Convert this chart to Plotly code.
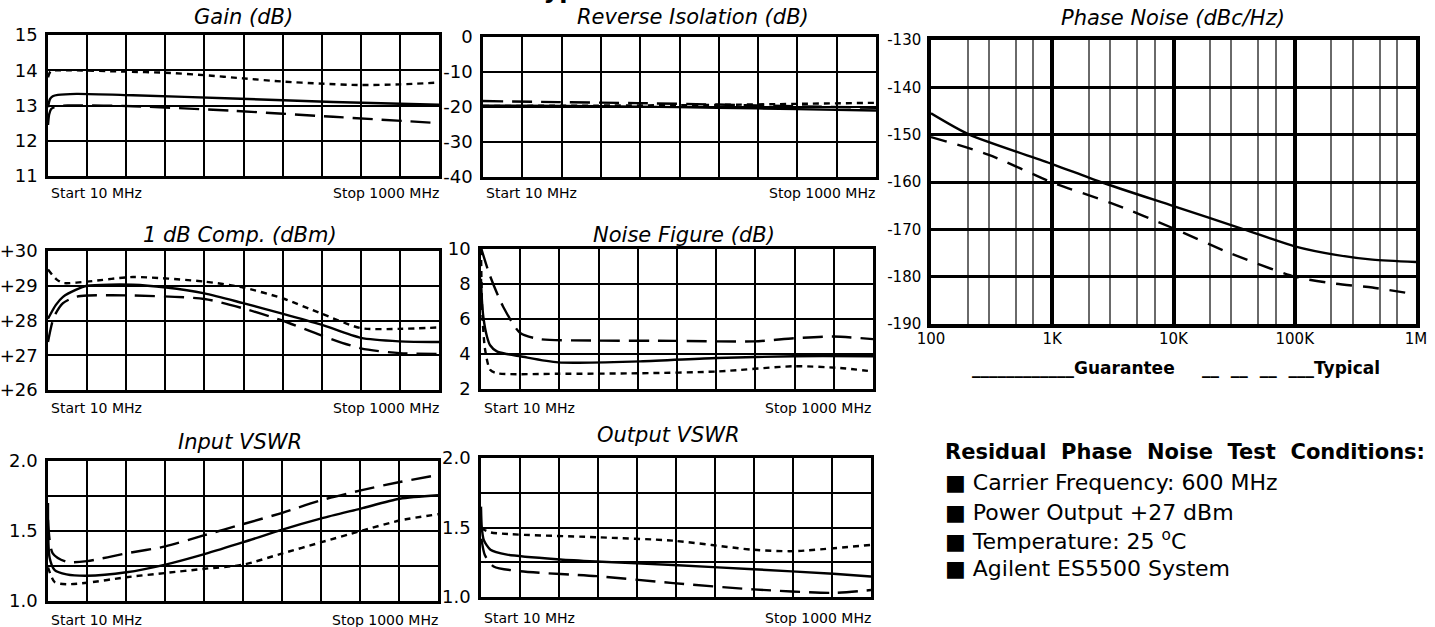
import plotly.graph_objects as go

# ---------------- DATA ----------------
# Small charts: x in MHz (linear sweep 10 .. 1000 MHz)
gain_solid_x = [10, 15, 22, 35, 82, 225, 478, 732, 1000]
gain_solid_y = [12.95, 13.18, 13.26, 13.3, 13.33, 13.29, 13.2, 13.1, 13.02]
gain_dash_x = [10, 13, 18, 30, 60, 225, 478, 732, 1000]
gain_dash_y = [12.45, 12.75, 12.9, 12.97, 13.0, 12.98, 12.85, 12.68, 12.5]
gain_dot_x = [10, 17, 56, 208, 307, 406, 504, 603, 702, 802, 900, 1000]
gain_dot_y = [13.8, 13.97, 14.0, 13.96, 13.93, 13.86, 13.77, 13.68, 13.62, 13.58, 13.6, 13.65]

iso_solid_x = [10, 200, 400, 600, 800, 1000]
iso_solid_y = [-19.6, -19.7, -19.9, -20.2, -20.6, -21.0]
iso_dash_x = [10, 200, 400, 600, 800, 1000]
iso_dash_y = [-18.3, -18.6, -18.9, -19.3, -19.8, -20.2]
iso_dot_x = [10, 300, 600, 800, 1000]
iso_dot_y = [-19.7, -19.6, -19.4, -19.1, -18.8]

comp_solid_x = [10, 30, 48, 80, 109, 225, 309, 406, 504, 603, 702, 802, 900, 1000]
comp_solid_y = [28.05, 28.45, 28.68, 28.88, 29.0, 29.03, 28.95, 28.78, 28.5, 28.2, 27.88, 27.5, 27.4, 27.38]
comp_dash_x = [10, 25, 48, 80, 109, 225, 406, 504, 603, 702, 802, 900, 1000]
comp_dash_y = [27.38, 28.1, 28.5, 28.68, 28.72, 28.72, 28.62, 28.35, 28.0, 27.57, 27.2, 27.06, 27.04]
comp_dot_x = [10, 30, 48, 109, 225, 406, 504, 603, 702, 802, 900, 1000]
comp_dot_y = [29.47, 29.2, 29.08, 29.12, 29.25, 29.12, 28.95, 28.64, 28.2, 27.78, 27.76, 27.8]

nf_solid_x = [10, 12, 16, 25, 33, 50, 75, 109, 205, 412, 606, 800, 1000]
nf_solid_y = [8.3, 7.2, 6.1, 5.0, 4.5, 4.15, 4.0, 3.87, 3.52, 3.58, 3.77, 3.87, 3.87]
nf_dash_x = [11, 33, 66, 109, 160, 300, 500, 700, 800, 900, 1000]
nf_dash_y = [10.0, 8.45, 6.7, 5.2, 4.85, 4.77, 4.75, 4.72, 4.9, 5.0, 4.85]
nf_dot_x = [10, 13, 20, 33, 50, 205, 412, 606, 800, 917, 1000]
nf_dot_y = [10.0, 6.5, 4.3, 3.1, 2.9, 2.87, 2.9, 3.0, 3.3, 3.2, 3.0]

ivswr_solid_x = [10, 14, 27, 57, 109, 209, 308, 407, 506, 605, 704, 804, 903, 1000]
ivswr_solid_y = [1.7, 1.31, 1.22, 1.19, 1.18, 1.205, 1.26, 1.335, 1.42, 1.51, 1.59, 1.66, 1.73, 1.755]
ivswr_dash_x = [10, 22, 57, 109, 209, 308, 407, 506, 605, 704, 804, 903, 1000]
ivswr_dash_y = [1.58, 1.34, 1.28, 1.285, 1.34, 1.39, 1.47, 1.55, 1.63, 1.72, 1.79, 1.85, 1.9]
ivswr_dot_x = [10, 27, 57, 109, 209, 308, 407, 506, 605, 704, 804, 903, 1000]
ivswr_dot_y = [1.24, 1.135, 1.12, 1.13, 1.17, 1.2, 1.23, 1.26, 1.34, 1.42, 1.5, 1.575, 1.62]

ovswr_solid_x = [10, 12, 17, 34, 76, 211, 304, 498, 701, 904, 1000]
ovswr_solid_y = [1.65, 1.5, 1.41, 1.34, 1.305, 1.27, 1.255, 1.23, 1.2, 1.167, 1.148]
ovswr_dash_x = [11, 20, 42, 110, 304, 498, 701, 904, 1000]
ovswr_dash_y = [1.42, 1.3, 1.22, 1.185, 1.15, 1.1, 1.055, 1.03, 1.05]
ovswr_dot_x = [10, 34, 304, 498, 701, 803, 1000]
ovswr_dot_y = [1.495, 1.465, 1.43, 1.405, 1.34, 1.33, 1.375]

# Phase noise: offset frequency in Hz, dBc/Hz
pn_guarantee_x = [100, 207, 1000, 2500, 10000, 38000, 100000, 218000, 437000, 1000000]
pn_guarantee_y = [-145.5, -150, -156.2, -160, -165.1, -170, -173.6, -175.4, -176.4, -176.9]
pn_typical_x = [100, 296, 1000, 3100, 10000, 29000, 100000, 218000, 437000, 930000]
pn_typical_y = [-150.5, -154.2, -160.1, -164.5, -169.8, -175, -180, -181.5, -182.3, -183.6]

pn_xtick_vals = [100, 1000, 10000, 100000, 1000000]
pn_xtick_text = ["100", "1K", "10K", "100K", "1M"]
pn_minor_mult = [2, 3, 5, 7]
pn_ytick_vals = [-130, -140, -150, -160, -170, -180, -190]
pn_ytick_text = ["-130", "-140", "-150", "-160", "-170", "-180", "-190"]

titles = ["Gain (dB)", "Reverse Isolation (dB)", "1 dB Comp. (dBm)",
          "Noise Figure (dB)", "Input VSWR", "Output VSWR"]
yranges = [[11, 15], [-40, 0], [26, 30], [2, 10], [1.0, 2.0], [1.0, 2.0]]
ytickvals = [[11, 12, 13, 14, 15], [-40, -30, -20, -10, 0], [26, 27, 28, 29, 30],
             [2, 4, 6, 8, 10], [1.0, 1.5, 2.0], [1.0, 1.5, 2.0]]
yticktext = [["11", "12", "13", "14", "15"], ["-40", "-30", "-20", "-10", "0"],
             ["+26", "+27", "+28", "+29", "+30"], ["2", "4", "6", "8", "10"],
             ["1.0", "1.5", "2.0"], ["1.0", "1.5", "2.0"]]
yextra_grid = [[], [], [], [], [1.25, 1.75], [1.25, 1.75]]

series = [
    (gain_solid_x, gain_solid_y, gain_dash_x, gain_dash_y, gain_dot_x, gain_dot_y),
    (iso_solid_x, iso_solid_y, iso_dash_x, iso_dash_y, iso_dot_x, iso_dot_y),
    (comp_solid_x, comp_solid_y, comp_dash_x, comp_dash_y, comp_dot_x, comp_dot_y),
    (nf_solid_x, nf_solid_y, nf_dash_x, nf_dash_y, nf_dot_x, nf_dot_y),
    (ivswr_solid_x, ivswr_solid_y, ivswr_dash_x, ivswr_dash_y, ivswr_dot_x, ivswr_dot_y),
    (ovswr_solid_x, ovswr_solid_y, ovswr_dash_x, ovswr_dash_y, ovswr_dot_x, ovswr_dot_y),
]

conditions_title = "Residual\u00a0\u00a0Phase\u00a0\u00a0Noise\u00a0\u00a0Test\u00a0\u00a0Conditions:"
conditions = ["Carrier Frequency: 600 MHz", "Power Output +27 dBm",
              "Temperature: 25 <sup>o</sup>C", "Agilent ES5500 System"]

# ---------------- LAYOUT ----------------
W, H = 1435, 627
FONT = "DejaVu Sans"


def px(x):
    return x / W


def py(y):
    return 1 - y / H


# panel pixel boxes: left, right, top, bottom
boxes = [(48, 439, 35, 176), (483, 876, 37, 177),
         (48, 439, 251, 390), (481, 873, 249, 389),
         (48, 438, 461, 601), (481, 871, 458, 597)]
title_pos = [(243, 17), (693, 17), (240, 235), (684, 235), (240, 442), (668, 435)]
startstop_y = [193, 193, 408, 408, 620, 618]
stop_right = [441, 877, 441, 873, 440, 873]

fig = go.Figure()
layout = dict(width=W, height=H, margin=dict(l=0, r=0, t=0, b=0, autoexpand=False),
              paper_bgcolor="white", plot_bgcolor="white", showlegend=False,
              font=dict(family=FONT, color="black"))
annotations = []

styles = [dict(dash="solid"), dict(dash="20px,9px"), dict(dash="6px,5px")]

for i, (box, s) in enumerate(zip(boxes, series)):
    n = i + 1
    l, r, t, b = box
    for k in range(3):
        fig.add_trace(go.Scatter(
            x=s[2 * k], y=s[2 * k + 1], mode="lines",
            line=dict(color="black", width=2.4, shape="spline", smoothing=0.7, **styles[k]),
            xaxis=f"x{n}", yaxis=f"y{n}", hoverinfo="skip"))
    layout[f"xaxis{n}"] = dict(
        domain=[px(l), px(r)], anchor=f"y{n}", range=[10, 1000], automargin=False,
        tickmode="linear", tick0=10, dtick=99, showticklabels=False,
        showgrid=True, gridcolor="black", gridwidth=2, zeroline=False,
        showline=True, mirror=True, linecolor="black", linewidth=2.5, fixedrange=True)
    yax = dict(
        domain=[py(b), py(t)], anchor=f"x{n}", range=yranges[i], automargin=False,
        tickmode="array", tickvals=ytickvals[i], ticktext=yticktext[i],
        tickfont=dict(size=18, family=FONT), ticklabelstandoff=4,
        showgrid=True, gridcolor="black", gridwidth=2, zeroline=False,
        showline=True, mirror=True, linecolor="black", linewidth=2.5, fixedrange=True)
    if yextra_grid[i]:
        yax["minor"] = dict(tickmode="array", tickvals=yextra_grid[i], showgrid=True,
                            gridcolor="black", gridwidth=2, ticks="")
    layout[f"yaxis{n}"] = yax
    tx, ty = title_pos[i]
    annotations.append(dict(text=f"<i>{titles[i]}</i>", x=px(tx), y=py(ty),
                            xref="paper", yref="paper", showarrow=False,
                            xanchor="center", yanchor="middle",
                            font=dict(size=21, family=FONT)))
    annotations.append(dict(text="Start 10 MHz", x=px(l + 1), y=py(startstop_y[i]),
                            xref="paper", yref="paper", showarrow=False,
                            xanchor="left", yanchor="middle", font=dict(size=14, family=FONT)))
    annotations.append(dict(text="Stop 1000 MHz", x=px(stop_right[i]), y=py(startstop_y[i]),
                            xref="paper", yref="paper", showarrow=False,
                            xanchor="right", yanchor="middle", font=dict(size=14, family=FONT)))

# Phase noise panel
fig.add_trace(go.Scatter(x=pn_guarantee_x, y=pn_guarantee_y, mode="lines",
                         line=dict(color="black", width=2.4, shape="spline", smoothing=0.7),
                         xaxis="x7", yaxis="y7", hoverinfo="skip"))
fig.add_trace(go.Scatter(x=pn_typical_x, y=pn_typical_y, mode="lines",
                         line=dict(color="black", width=2.4, shape="spline", smoothing=0.7,
                                   dash="16px,11px"),
                         xaxis="x7", yaxis="y7", hoverinfo="skip"))
minor_vals = [m * 10 ** e for e in range(2, 6) for m in pn_minor_mult]
layout["xaxis7"] = dict(
    domain=[px(931), px(1416)], anchor="y7", type="log", range=[2, 6], automargin=False,
    tickmode="array", tickvals=pn_xtick_vals, ticktext=pn_xtick_text,
    tickfont=dict(size=15, family=FONT), ticklabelstandoff=-2,
    showgrid=True, gridcolor="black", gridwidth=3.5, zeroline=False,
    minor=dict(tickmode="array", tickvals=minor_vals, showgrid=True,
               gridcolor="#6a6a6a", gridwidth=1.5, ticks=""),
    showline=True, mirror=True, linecolor="black", linewidth=3.5, fixedrange=True)
layout["yaxis7"] = dict(
    domain=[py(324), py(40)], anchor="x7", range=[-190, -130], automargin=False,
    tickmode="array", tickvals=pn_ytick_vals, ticktext=pn_ytick_text,
    tickfont=dict(size=15, family=FONT), ticklabelstandoff=3,
    showgrid=True, gridcolor="black", gridwidth=2.5, zeroline=False,
    showline=True, mirror=True, linecolor="black", linewidth=3.5, fixedrange=True)

annotations.append(dict(text="<i>Phase Noise (dBc/Hz)</i>", x=px(1173), y=py(18),
                        xref="paper", yref="paper", showarrow=False,
                        xanchor="center", yanchor="middle", font=dict(size=21, family=FONT)))
annotations.append(dict(text="<b>____________Guarantee</b>", x=px(970), y=py(368),
                        xref="paper", yref="paper", showarrow=False,
                        xanchor="left", yanchor="middle", font=dict(size=17, family=FONT)))
annotations.append(dict(text="<b>__\u00a0\u00a0__\u00a0\u00a0__\u00a0\u00a0___Typical</b>",
                        x=px(1200), y=py(368),
                        xref="paper", yref="paper", showarrow=False,
                        xanchor="left", yanchor="middle", font=dict(size=17, family=FONT)))

# cropped page heading at the very top (only its lower edge shows, as in the source)
annotations.append(dict(text="<b>Typical Performance</b>", x=px(528), y=1 + 10 / H,
                        xref="paper", yref="paper", showarrow=False,
                        xanchor="left", yanchor="middle", font=dict(size=24, family=FONT)))

# Test conditions
annotations.append(dict(text=f"<b>{conditions_title}</b>", x=px(943), y=py(452),
                        xref="paper", yref="paper", showarrow=False,
                        xanchor="left", yanchor="middle", font=dict(size=21, family=FONT)))
for j, (c, yy) in enumerate(zip(conditions, [482, 512, 540, 568])):
    annotations.append(dict(text=f"\u25a0 {c}", x=px(943), y=py(yy),
                            xref="paper", yref="paper", showarrow=False,
                            xanchor="left", yanchor="middle", font=dict(size=22, family=FONT)))

layout["annotations"] = annotations
fig.update_layout(**layout)
fig.write_html("out.html", config={"displayModeBar": False},
               post_script="document.body.style.margin='0px';document.body.style.overflow='hidden';")
